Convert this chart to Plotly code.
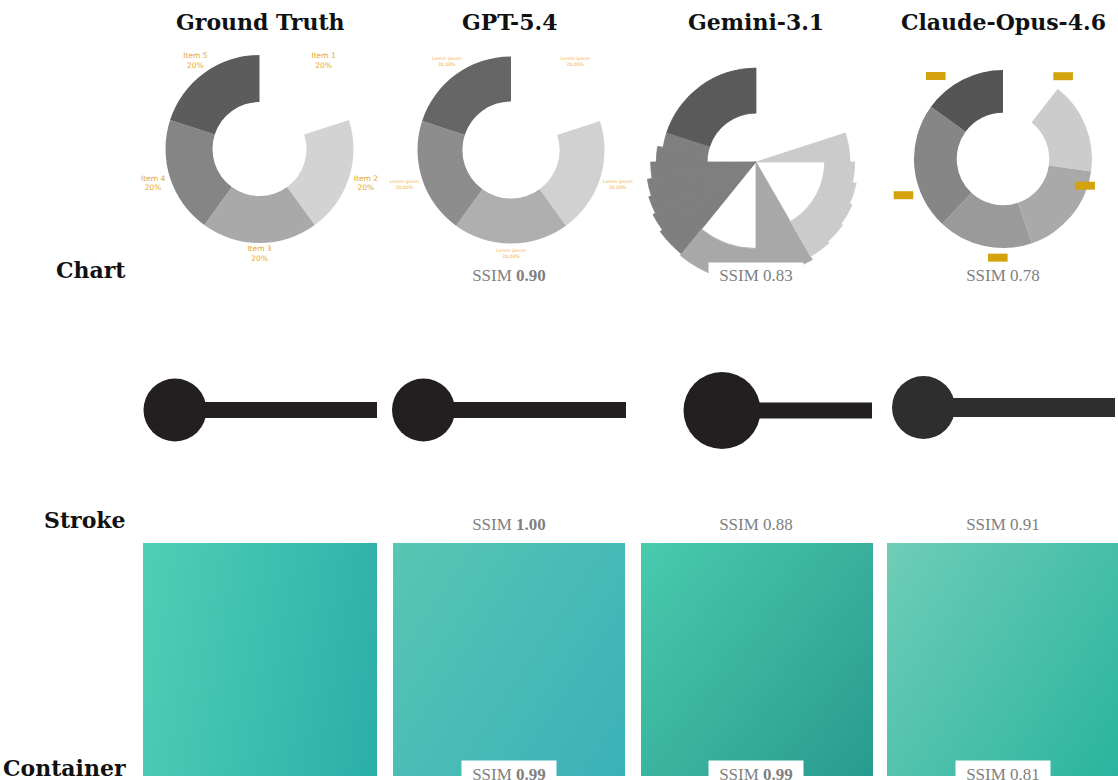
import plotly.graph_objects as go

W, H = 1118, 780

# ------------------------------------------------------------------ data
columns = ["Ground Truth", "GPT-5.4", "Gemini-3.1", "Claude-Opus-4.6"]
row_names = ["Chart", "Stroke", "Container"]

ssim_chart = ["", "0.90", "0.83", "0.78"]
ssim_stroke = ["", "1.00", "0.88", "0.91"]
ssim_container = ["", "0.99", "0.99", "0.81"]
best_chart = [False, True, False, False]
best_stroke = [False, True, False, False]
best_container = [False, True, True, False]

gt_labels = ["Item 1", "Item 2", "Item 3", "Item 4", "Item 5"]
gt_values = [20, 20, 20, 20, 20]
gt_pct = ["20%", "20%", "20%", "20%", "20%"]

gpt_labels = ["Lorem ipsum", "Lorem ipsum", "Lorem ipsum", "Lorem ipsum", "Lorem ipsum"]
gpt_values = [20, 20, 20, 20, 20]
gpt_pct = ["20.00%", "20.00%", "20.00%", "20.00%", "20.00%"]

claude_values = [38, 60, 63, 62, 83, 54]
claude_label_theta = [36, 108, 183, 250, 321]

# Gemini render read as angular pieces (degrees, clockwise from top)
gemini_theta_start = [288, 279, 270, 261, 252, 243, 234, 219, 180, 150, 138, 126, 114, 102, 90, 72]
gemini_theta_end = [360, 288, 279, 270, 261, 252, 243, 234, 219, 180, 150, 138, 126, 114, 102, 90]
gemini_inner = [0.52, 0.52, 0.52, 0.0, 0.0, 0.0, 0.0, 0.0, 0.92, 0.0, 0.73, 0.73, 0.73, 0.73, 0.73, 0.0]
gemini_outer = [1.0, 1.0, 1.06, 1.12, 1.17, 1.2, 1.23, 1.26, 1.28, 1.2, 1.16, 1.14, 1.12, 1.09, 1.05, 1.0]
gemini_item = [5, 4, 4, 4, 4, 4, 4, 4, 3, 3, 2, 2, 2, 2, 2, 2]

# ------------------------------------------------------------------ styles / layout
gt_colors = ["rgba(0,0,0,0)", "#d3d3d3", "#a9a9a9", "#858585", "#5c5c5c"]
gpt_colors = ["rgba(0,0,0,0)", "#d1d1d1", "#afafaf", "#8d8d8d", "#666666"]
claude_colors = ["rgba(0,0,0,0)", "#cccccc", "#a9a9a9", "#9a9a9a", "#868686", "#555555"]
gemini_item_colors = {2: "#cbcbcb", 3: "#a8a8a8", 4: "#7f7f7f", 5: "#5a5a5a"}

col_centers = [260, 509, 756, 1003]
header_y = 22
row_label_y = [270, 520, 768]
row_label_right = 128

# donut geometry (center px, outer radius px, hole fraction, radial range)
donut_geo = [
    dict(cx=259.5, cy=149, R=94, hole=0.5, rmax=1.3),
    dict(cx=511, cy=150, R=93.5, hole=0.52, rmax=1.3),
    dict(cx=756, cy=162, R=94, hole=0.0, rmax=1.35),
    dict(cx=1003, cy=159, R=89, hole=0.52, rmax=1.25),
]
gt_label_r = [1.16, 1.19, 1.12, 1.19, 1.16]
gpt_label_r = [1.17, 1.2, 1.11, 1.2, 1.17]
claude_label_r = [1.15, 0.97, 1.11, 1.19, 1.2]

# stroke geometry per column
stroke_geo = [
    dict(cx=175, cy=410, d=63, x_end=377, w=16, color="#231f20"),
    dict(cx=423.5, cy=410, d=63, x_end=626, w=16, color="#231f20"),
    dict(cx=722, cy=410.5, d=77, x_end=872, w=16, color="#231f20"),
    dict(cx=923.5, cy=407.5, d=63, x_end=1115, w=19, color="#2e2e2e"),
]

# container geometry + gradient
container_geo = [
    dict(x0=143, x1=377, y0=543, y1=776, c0="#50ceb6", c1="#2baea8", z=[[0, 0.85], [0.15, 1]]),
    dict(x0=393, x1=625, y0=543, y1=776, c0="#58c6b4", c1="#3ab1b8", z=[[0, 0.6], [0.4, 1]]),
    dict(x0=641, x1=873, y0=543, y1=776, c0="#49caad", c1="#299a8f", z=[[0, 0.55], [0.45, 1]]),
    dict(x0=887, x1=1118, y0=543, y1=776, c0="#6fcdb7", c1="#2ab49f", z=[[0, 0.6], [0.4, 1]]),
]

ssim_box_top = [262, 511, 760]
ssim_box_h = [24, 24, 26]

label_gold = "#e4a62f"
gpt_gold = "#f0b445"
claude_gold = "#d4a20c"

fig = go.Figure()
layout = dict(
    width=W, height=H,
    margin=dict(l=0, r=0, t=0, b=0),
    paper_bgcolor="white", plot_bgcolor="rgba(0,0,0,0)",
    showlegend=False,
)


def polar_layout(g):
    half = g["R"] * g["rmax"]
    x0 = max(0.0, (g["cx"] - half) / W)
    x1 = min(1.0, (g["cx"] + half) / W)
    y0 = max(0.0, 1 - (g["cy"] + half) / H)
    y1 = min(1.0, 1 - (g["cy"] - half) / H)
    return dict(
        domain=dict(x=[x0, x1], y=[y0, y1]),
        bgcolor="rgba(0,0,0,0)",
        radialaxis=dict(visible=False, range=[0, g["rmax"]]),
        angularaxis=dict(visible=False, rotation=90, direction="clockwise"),
    )


def slice_angles(values):
    total = float(sum(values))
    mids, spans, cum = [], [], 0.0
    for v in values:
        span = v / total * 360.0
        mids.append(cum + span / 2)
        spans.append(span)
        cum += span
    return mids, spans


def add_donut(values, colors, g, subplot):
    mids, spans = slice_angles(values)
    n = len(values)
    fig.add_trace(go.Barpolar(
        theta=mids, width=spans,
        base=[g["hole"]] * n, r=[1 - g["hole"]] * n,
        marker=dict(color=colors, line=dict(width=0)),
        subplot=subplot, hoverinfo="skip",
    ))
    return mids


polar_names = ["polar", "polar2", "polar3", "polar4"]
for i, g in enumerate(donut_geo):
    layout[polar_names[i]] = polar_layout(g)

# Ground truth donut
mids = add_donut(gt_values, gt_colors, donut_geo[0], "polar")
fig.add_trace(go.Scatterpolar(
    theta=mids, r=gt_label_r, mode="text",
    text=[f"{l}<br>{p}" for l, p in zip(gt_labels, gt_pct)],
    textfont=dict(family="DejaVu Sans", size=7.5, color=label_gold),
    cliponaxis=False, subplot="polar", hoverinfo="skip",
))

# GPT donut
mids = add_donut(gpt_values, gpt_colors, donut_geo[1], "polar2")
fig.add_trace(go.Scatterpolar(
    theta=mids, r=gpt_label_r, mode="text",
    text=[f"{l}<br>{p}" for l, p in zip(gpt_labels, gpt_pct)],
    textfont=dict(family="DejaVu Sans", size=4.6, color=gpt_gold),
    cliponaxis=False, subplot="polar2", hoverinfo="skip",
))

# Gemini broken donut
g_theta = [(s + e) / 2 for s, e in zip(gemini_theta_start, gemini_theta_end)]
g_width = [e - s for s, e in zip(gemini_theta_start, gemini_theta_end)]
g_len = [o - b for o, b in zip(gemini_outer, gemini_inner)]
g_cols = [gemini_item_colors[k] for k in gemini_item]
fig.add_trace(go.Barpolar(
    theta=g_theta, width=g_width, base=gemini_inner, r=g_len,
    marker=dict(color=g_cols, line=dict(width=0.8, color=g_cols)),
    subplot="polar3", hoverinfo="skip",
))

# Claude donut
add_donut(claude_values, claude_colors, donut_geo[3], "polar4")
fig.add_trace(go.Scatterpolar(
    theta=claude_label_theta, r=claude_label_r, mode="markers",
    marker=dict(symbol="line-ew", size=14, color=claude_gold,
                line=dict(width=8, color=claude_gold)),
    cliponaxis=False, subplot="polar4", hoverinfo="skip",
))

# ---- stroke row (full-figure pixel axis)
layout["xaxis"] = dict(domain=[0, 1], range=[0, W], visible=False, fixedrange=True)
layout["yaxis"] = dict(domain=[0, 1], range=[H, 0], visible=False, fixedrange=True)
for s in stroke_geo:
    fig.add_trace(go.Scatter(
        x=[s["cx"], s["x_end"]], y=[s["cy"], s["cy"]],
        mode="lines", line=dict(color=s["color"], width=s["w"]),
        xaxis="x", yaxis="y", hoverinfo="skip",
    ))
    fig.add_trace(go.Scatter(
        x=[s["cx"]], y=[s["cy"]], mode="markers",
        marker=dict(size=s["d"], color=s["color"], opacity=1, line=dict(width=0)),
        xaxis="x", yaxis="y", hoverinfo="skip",
    ))

# ---- container row: gradient squares
for i, c in enumerate(container_geo):
    k = i + 2
    layout[f"xaxis{k}"] = dict(domain=[c["x0"] / W, c["x1"] / W], range=[0, 1],
                               visible=False, fixedrange=True)
    layout[f"yaxis{k}"] = dict(domain=[1 - c["y1"] / H, 1 - c["y0"] / H], range=[1, 0],
                               visible=False, fixedrange=True)
    fig.add_trace(go.Heatmap(
        z=c["z"], x=[0, 1], y=[0, 1], zmin=0, zmax=1, zsmooth="best",
        colorscale=[[0, c["c0"]], [1, c["c1"]]], showscale=False,
        xaxis=f"x{k}", yaxis=f"y{k}", hoverinfo="skip",
    ))

# ---- text
ann = []
for name, cx in zip(columns, col_centers):
    ann.append(dict(text=name, x=cx / W, y=1 - header_y / H, xref="paper", yref="paper",
                    xanchor="center", yanchor="middle", showarrow=False,
                    font=dict(family="DejaVu Serif", size=22, color="#111111", weight="bold")))
for name, ry in zip(row_names, row_label_y):
    ann.append(dict(text=name, x=row_label_right / W, y=1 - ry / H, xref="paper", yref="paper",
                    xanchor="right", yanchor="middle", showarrow=False,
                    font=dict(family="DejaVu Serif", size=22, color="#111111", weight="bold")))

for r, (scores, bests) in enumerate([(ssim_chart, best_chart), (ssim_stroke, best_stroke),
                                     (ssim_container, best_container)]):
    for j in range(1, 4):
        val = f"<b>{scores[j]}</b>" if bests[j] else scores[j]
        ann.append(dict(text=f"SSIM {val}", x=col_centers[j] / W, y=1 - ssim_box_top[r] / H,
                        xref="paper", yref="paper", xanchor="center", yanchor="top",
                        showarrow=False, bgcolor="white", width=94, height=ssim_box_h[r],
                        borderpad=0, valign="middle",
                        font=dict(family="Liberation Serif", size=17, color="#7f7f7f")))
layout["annotations"] = ann

fig.update_layout(**layout)
fig.write_html("out.html", config={"displayModeBar": False},
               post_script="document.body.style.margin='0';document.body.style.padding='0';")
